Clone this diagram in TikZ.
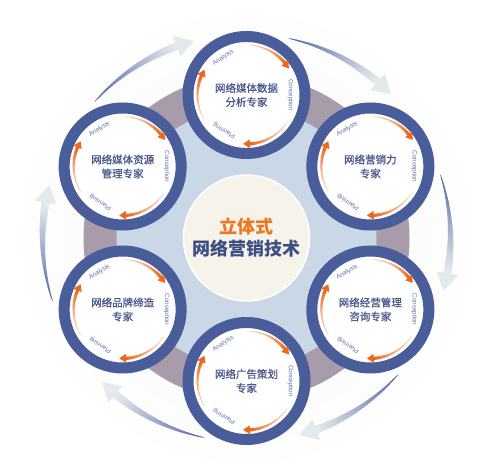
\documentclass[tikz,border=0pt]{standalone}
\usepackage{fontspec}
\newfontfamily\cjk{Noto Sans CJK SC}
\newfontfamily\cjkm[FakeBold=0.7]{Noto Sans CJK SC}
\newfontfamily\labfont{Liberation Sans}
\definecolor{ringblue}{RGB}{74,93,155}
\definecolor{satText}{RGB}{72,86,138}
\definecolor{labBlue}{RGB}{95,115,170}
\definecolor{mauve}{RGB}{168,155,170}
\definecolor{lblue}{RGB}{201,215,231}
\definecolor{cream}{RGB}{245,243,234}
\definecolor{halo}{RGB}{242,244,247}
\definecolor{hubOrange}{RGB}{236,118,34}
\definecolor{hubBlue}{RGB}{62,78,130}
\definecolor{outTail}{RGB}{74,96,162}
\definecolor{outHead}{RGB}{228,234,236}
\definecolor{orTail}{RGB}{250,210,180}
\definecolor{orHead}{RGB}{238,104,28}
% gradient tapered arc arrow: #1 R, #2 tail angle, #3 head angle, #4 tail width, #5 body width, #6 head length (deg), #7 head half width
\newcommand\GArc[8]{%
  \pgfmathsetmacro\gaA{#2}%
  \pgfmathsetmacro\gaH{#3}%
  \pgfmathsetmacro\gaB{\gaH+#6}%
  \foreach \i in {0,...,29}{%
    \pgfmathsetmacro\aa{\gaA+(\gaB-\gaA)*\i/30}%
    \pgfmathsetmacro\ab{\gaA+(\gaB-\gaA)*(\i+1.4)/30}%
    \pgfmathsetmacro\wa{(#4+(#5-#4)*\i/30)/2}%
    \pgfmathsetmacro\wb{(#4+(#5-#4)*min(\i+1.4,30)/30)/2}%
    \pgfmathtruncatemacro\pc{100-100*(\i/29)^#8}%
    \fill[gaT!\pc!gaH] (\aa:{#1+\wa}) -- (\ab:{#1+\wb}) -- (\ab:{#1-\wb}) -- (\aa:{#1-\wa}) -- cycle;%
  }%
  \fill[gaH] (\gaB:{#1+#7}) -- (\gaH:#1) -- (\gaB:{#1-#7}) -- cycle;%
}
\begin{document}
\begin{tikzpicture}[x=1pt,y=1pt,
  sat/.style={circle, draw=ringblue, line width=11pt, fill=white, minimum size=117pt,
    inner sep=0pt, align=center, font=\cjkm\fontsize{10.5}{14}\selectfont, text=satText},
  lab/.style={font=\labfont\fontsize{6.3}{6.3}\selectfont, text=labBlue, inner sep=0pt},
  hubtext/.style={font=\cjk\bfseries\fontsize{18}{18}\selectfont, inner sep=0pt}
]
\useasboundingbox (0,0) rectangle (500,474);
\fill[white] (0,0) rectangle (500,474);
\begin{scope}[shift={(246.5,236)}]
  \shade[inner color=halo, outer color=white] (0,0) circle (236);
  \fill[mauve] (0,0) circle (163);
  \fill[lblue] (0,0) circle (130);
  \node[circle, fill=cream, draw=white, line width=1.5pt, minimum size=126pt, inner sep=0pt] (hub) at (0,0) {};
  \node[hubtext, text=hubOrange] (hubA) at (0,11) {立体式};
  \node[hubtext, text=hubBlue] (hubB) at (0,-11) {网络营销技术};
  % outer faint arrows
  \colorlet{gaT}{outTail}\colorlet{gaH}{outHead}
  \foreach \g in {60,0,-60,-120,180,120}{
    \GArc{204}{\g+18}{\g-15}{0.5}{8}{5}{11}{0.9}
  }
  % satellites
  \foreach \ang/\nm/\txt in {90/s1/{网络媒体数据\\分析专家}, 30/s2/{网络营销力\\专家},
      -30/s3/{网络经营管理\\咨询专家}, -90/s4/{网络广告策划\\专家},
      -150/s5/{网络品牌缔造\\专家}, 150/s6/{网络媒体资源\\管理专家}}{
    \node[sat] (\nm) at (\ang:143) {\txt};
    \begin{scope}[shift={(\ang:143)}]
      \colorlet{gaT}{orTail}\colorlet{gaH}{orHead}
      \GArc{50}{88}{32}{0.3}{3.2}{8}{4.5}{1.6}
      \GArc{49}{-33}{-94}{0.3}{3.2}{8}{4.5}{1.6}
      \GArc{49}{212}{149}{0.3}{3.2}{8}{4.5}{1.6}
      \node[lab, rotate=32] (\nm a) at (122:44) {Analysis};
      \node[lab, rotate=-90] (\nm c) at (0:44) {Conception};
      \node[lab, rotate=148] (\nm p) at (238:42) {Planning};
    \end{scope}
  }
\end{scope}
\end{tikzpicture}
\end{document}
